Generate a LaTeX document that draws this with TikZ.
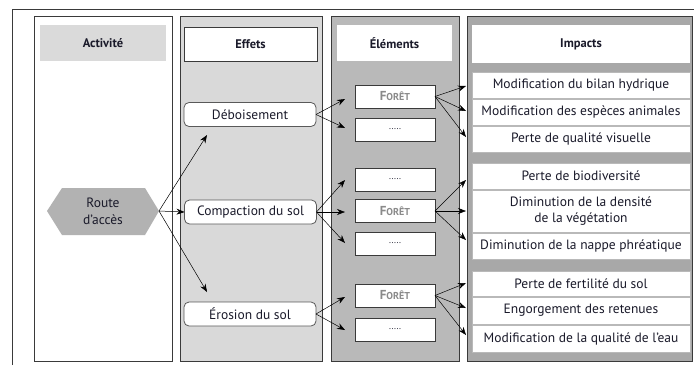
\documentclass[tikz,border=0pt]{standalone}
\usepackage{fontspec}
\setmainfont{PT Sans}
\usetikzlibrary{arrows.meta}
\definecolor{txt}{HTML}{1A1A2A}
\definecolor{frame}{HTML}{3A3A3A}
\definecolor{colA}{HTML}{FFFFFF}
\definecolor{hdrA}{HTML}{DADADA}
\definecolor{colB}{HTML}{D9D9D9}
\definecolor{colC}{HTML}{B9B9B9}
\definecolor{colD}{HTML}{A8A8A8}
\definecolor{hexfill}{HTML}{B2B2B2}
\definecolor{foret}{HTML}{8A8A8A}
\newcommand{\foretlabel}{\textcolor{foret}{\bfseries\fontsize{13}{13}\selectfont F\fontsize{10}{11}\selectfont ORÊT}}
\newcommand{\dotslabel}{\fontsize{9}{11}\selectfont .....}
\begin{document}
\begin{tikzpicture}[x=1pt,y=-1pt,
  every node/.style={inner sep=0pt,outer sep=0pt,font=\fontsize{13.5}{16}\selectfont,text=txt},
  column/.style={draw=frame,line width=0.9pt},
  header/.style={fill=white,font=\fontsize{12.5}{15}\selectfont\bfseries},
  impact/.style={fill=white,draw=gray!55,line width=0.5pt,minimum width=218pt,align=center},
  element/.style={fill=white,draw=frame,line width=0.8pt,minimum width=80pt,minimum height=23pt},
  effect/.style={fill=white,draw=gray!70!black,line width=0.8pt,rounded corners=5pt,minimum width=132pt,minimum height=24pt},
  arr/.style={line width=0.5pt,black,-{Stealth[length=8pt,width=6pt]}}]
\useasboundingbox (0,0) rectangle (694,365);
% outer frame
\draw[frame,line width=0.9pt] (12,365) -- (12,9) -- (694,9);
% columns
\draw[column,fill=colA] (34,16) rectangle (172,361);
\fill[hdrA] (40,25) rectangle (166,61);
\node[header,fill=none] (hA) at (103,43) {Activité};
\draw[column,fill=colB] (180,16) rectangle (322,361);
\node[header,draw=frame,line width=0.8pt,minimum width=133pt,minimum height=34pt] (hB) at (250.5,44) {Effets};
\draw[column,fill=colC] (331,16) rectangle (459,361);
\node[header,minimum width=115pt,minimum height=36pt] (hC) at (394.5,43) {Éléments};
\draw[column,fill=colD] (467,16) rectangle (692,361);
\node[header,minimum width=218pt,minimum height=38pt] (hD) at (581,44) {Impacts};
% impacts
\node[impact,minimum height=26pt] (i1) at (581,85) {Modification du bilan hydrique};
\node[impact,minimum height=26pt] (i2) at (581,112) {Modification des espèces animales};
\node[impact,minimum height=26pt] (i3) at (581,139) {Perte de qualité visuelle};
\node[impact,minimum height=26pt] (i4) at (581,176) {Perte de biodiversité};
\node[impact,minimum height=42pt] (i5) at (581,211) {Diminution de la densité\\de la végétation};
\node[impact,minimum height=26pt] (i6) at (581,246) {Diminution de la nappe phréatique};
\node[impact,minimum height=25pt] (i7) at (581,283.5) {Perte de fertilité du sol};
\node[impact,minimum height=27pt] (i8) at (581,310.5) {Engorgement des retenues};
\node[impact,minimum height=27pt] (i9) at (581,338.5) {Modification de la qualité de l’eau};
% elements
\node[element] (e1) at (395,96.5) {\foretlabel};
\node[element] (e2) at (395,129.5) {\dotslabel};
\node[element] (e3) at (395,179.5) {\dotslabel};
\node[element] (e4) at (395,211) {\foretlabel};
\node[element] (e5) at (395,243.5) {\dotslabel};
\node[element] (e6) at (395,295.5) {\foretlabel};
\node[element] (e7) at (395,329.5) {\dotslabel};
% effects
\node[effect] (d1) at (250,114.5) {Déboisement};
\node[effect] (d2) at (250.5,212) {Compaction du sol};
\node[effect] (d3) at (250,314) {Érosion du sol};
% hexagon
\coordinate (hl) at (47,211);
\coordinate (rt) at (159,211);
\fill[hexfill] (hl) -- (62,188) -- (145,188) -- (rt) -- (145,235) -- (62,235) -- cycle;
\node[align=center,font=\fontsize{13.5}{17}\selectfont] (route) at (103,211) {Route\\d’accès};
% arrow ends
\coordinate (a1) at (207,135);
\coordinate (a3) at (207,292);
\coordinate (b11) at (345,99);
\coordinate (b12) at (345,128);
\coordinate (b21) at (345,180);
\coordinate (b22) at (345,212);
\coordinate (b23) at (345,243);
\coordinate (b31) at (345,297);
\coordinate (b32) at (345,330);
\coordinate (c11) at (466,86);
\coordinate (c12) at (466,111);
\coordinate (c13) at (466,137);
\coordinate (c21) at (466,180);
\coordinate (c22) at (466,211);
\coordinate (c23) at (466,240);
\coordinate (c31) at (466,283);
\coordinate (c32) at (466,308);
\coordinate (c33) at (466,335);
% arrows
\draw[arr] (rt) -- (a1);
\draw[arr] (rt) -- (d2.west);
\draw[arr] (rt) -- (a3);
\draw[arr] (d1.east) -- (b11);
\draw[arr] (d1.east) -- (b12);
\draw[arr] (d2.east) -- (b21);
\draw[arr] (d2.east) -- (b22);
\draw[arr] (d2.east) -- (b23);
\draw[arr] (d3.east) -- (b31);
\draw[arr] (d3.east) -- (b32);
\draw[arr] (e1.east) -- (c11);
\draw[arr] (e1.east) -- (c12);
\draw[arr] (e1.east) -- (c13);
\draw[arr] (e4.east) -- (c21);
\draw[arr] (e4.east) -- (c22);
\draw[arr] (e4.east) -- (c23);
\draw[arr] (e6.east) -- (c31);
\draw[arr] (e6.east) -- (c32);
\draw[arr] (e6.east) -- (c33);
\end{tikzpicture}
\end{document}
